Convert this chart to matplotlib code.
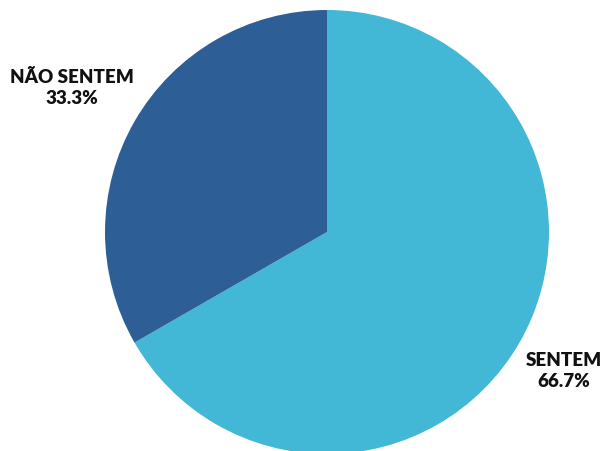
import matplotlib
matplotlib.use("Agg")
import matplotlib.pyplot as plt

labels = ["SENTEM", "NÃO SENTEM"]
values = [66.7, 33.3]
colors = ["#42B7D6", "#2D5E96"]

fig = plt.figure(figsize=(6.01, 4.51), dpi=100)
ax = fig.add_axes([0, 0, 1, 1])

# pie in pixel space, starting at top, clockwise
ax.pie(values, colors=colors, startangle=90, counterclock=False,
       center=(327, 451 - 232), radius=222, frame=True,
       wedgeprops=dict(linewidth=0))
ax.set_xlim(0, 601)
ax.set_ylim(0, 451)
ax.axis("off")

font = dict(family=["Lato", "DejaVu Sans"], fontweight="heavy", fontsize=13.5,
            color="#111111", ha="center", va="center", linespacing=1.3)
ax.text(72, 451 - 88, "%s\n%.1f%%" % (labels[1], values[1]), **font)
ax.text(564, 451 - 371, "%s\n%.1f%%" % (labels[0], values[0]), **font)

fig.savefig("out.png", dpi=100)
